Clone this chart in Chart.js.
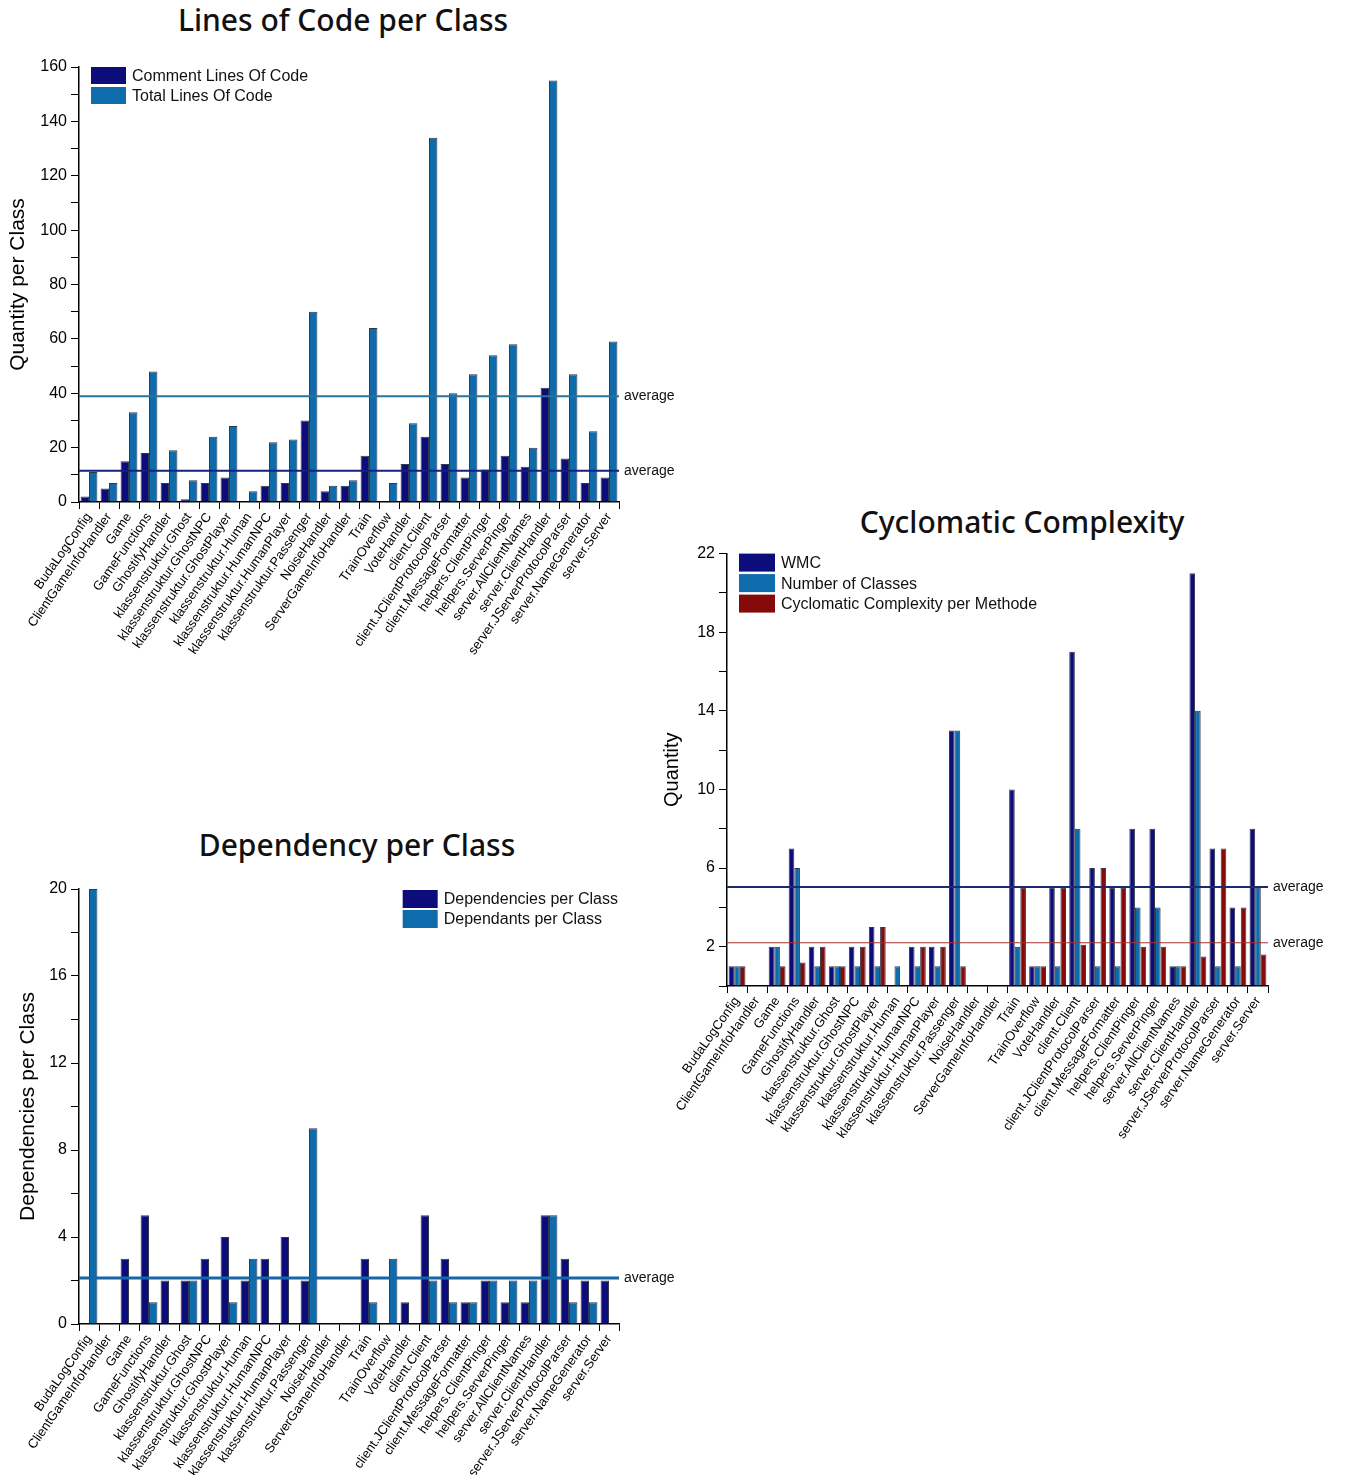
<!DOCTYPE html>
<html>
<head>
<meta charset="utf-8">
<script src="https://cdn.jsdelivr.net/npm/chart.js@4.4.0/dist/chart.umd.min.js"></script>
<style>
  body { margin: 0; background: #fff; width: 1345px; height: 1475px; position: relative; overflow: hidden; }
  canvas { position: absolute; }
  .title { position: absolute; width: 500px; text-align: center; line-height: 36px;
           font-family: 'Noto Sans', sans-serif; font-weight: 500; font-size: 30px; color: #111; }
</style>
</head>
<body>
<div class="title" style="left:93px; top:2px;">Lines of Code per Class</div>
<div class="title" style="left:772px; top:504px;">Cyclomatic Complexity</div>
<div class="title" style="left:107px; top:827px;">Dependency per Class</div>
<canvas id="loc" width="690" height="660" style="left:0; top:0;"></canvas>
<canvas id="cyclo" width="705" height="610" style="left:640px; top:540px;"></canvas>
<canvas id="dep" width="690" height="615" style="left:0; top:860px;"></canvas>
<script>
const classNames = ['BudaLogConfig', 'ClientGameInfoHandler', 'Game', 'GameFunctions', 'GhostifyHandler',
  'klassenstruktur.Ghost', 'klassenstruktur.GhostNPC', 'klassenstruktur.GhostPlayer', 'klassenstruktur.Human',
  'klassenstruktur.HumanNPC', 'klassenstruktur.HumanPlayer', 'klassenstruktur.Passenger', 'NoiseHandler',
  'ServerGameInfoHandler', 'Train', 'TrainOverflow', 'VoteHandler', 'client.Client', 'client.JClientProtocolParser',
  'client.MessageFormatter', 'helpers.ClientPinger', 'helpers.ServerPinger', 'server.AllClientNames',
  'server.ClientHandler', 'server.JServerProtocolParser', 'server.NameGenerator', 'server.Server'];

const commentLines = [2, 5, 15, 18, 7, 1, 7, 9, 0, 6, 7, 30, 4, 6, 17, 0, 14, 24, 14, 9, 12, 17, 13, 42, 16, 7, 9];
const totalLines = [11, 7, 33, 48, 19, 8, 24, 28, 4, 22, 23, 70, 6, 8, 64, 7, 29, 134, 40, 47, 54, 58, 20, 155, 47, 26, 59];

const wmc = [1, 0, 2, 7, 2, 1, 2, 3, 0, 2, 2, 13, 0, 0, 10, 1, 5, 17, 6, 5, 8, 8, 1, 21, 7, 4, 8];
const numClasses = [1, 0, 2, 6, 1, 1, 1, 1, 1, 1, 1, 13, 0, 0, 2, 1, 1, 8, 1, 1, 4, 4, 1, 14, 1, 1, 5];
const ccPerMethod = [1, 0, 1, 1.2, 2, 1, 2, 3, 0, 2, 2, 1, 0, 0, 5, 1, 5, 2.1, 6, 5, 2, 2, 1, 1.5, 7, 4, 1.6];

const dependencies = [0, 0, 3, 5, 2, 2, 3, 4, 2, 3, 4, 2, 0, 0, 3, 0, 1, 5, 3, 1, 2, 1, 1, 5, 3, 2, 2];
const dependants = [20, 0, 0, 1, 0, 2, 0, 1, 3, 0, 0, 9, 0, 0, 1, 3, 0, 2, 1, 1, 2, 2, 2, 5, 1, 1, 0];

const NAVY = '#0c0c7a';
const BLUE = '#0f6cac';
const RED = '#850a0a';
const FONT = '"Liberation Sans", Arial, sans-serif';

const mean = arr => arr.reduce((a, b) => a + b, 0) / arr.length;

Chart.defaults.font.family = FONT;
Chart.defaults.color = '#000';

// horizontal "average" lines with a label right of the plot
const averageLines = {
  id: 'averageLines',
  afterDatasetsDraw(chart, args, opts) {
    const { ctx, chartArea, scales } = chart;
    (opts.lines || []).forEach(l => {
      const y = scales.y.getPixelForValue(l.value);
      ctx.save();
      ctx.strokeStyle = l.color;
      ctx.lineWidth = l.width;
      ctx.beginPath();
      ctx.moveTo(chartArea.left, y);
      ctx.lineTo(chartArea.right, y);
      ctx.stroke();
      ctx.fillStyle = '#111';
      ctx.font = '14px ' + FONT;
      ctx.textAlign = 'left';
      ctx.textBaseline = 'middle';
      ctx.fillText('average', chartArea.right + 5, y);
      ctx.restore();
    });
  }
};

// legend drawn inside the plot area
const insideLegend = {
  id: 'insideLegend',
  afterDraw(chart, args, opts) {
    const { ctx, chartArea } = chart;
    const sets = chart.data.datasets;
    ctx.save();
    ctx.font = '16px ' + FONT;
    const textW = Math.max(...sets.map(d => ctx.measureText(d.label).width));
    const total = opts.boxWidth + opts.gap + textW;
    const x0 = opts.align === 'right'
      ? chartArea.right - opts.offsetX - total
      : chartArea.left + opts.offsetX;
    sets.forEach((d, i) => {
      const y = chartArea.top + opts.offsetY + i * opts.step;
      ctx.fillStyle = d.backgroundColor;
      ctx.fillRect(x0, y, opts.boxWidth, opts.boxHeight);
      ctx.fillStyle = '#111';
      ctx.textAlign = 'left';
      ctx.textBaseline = 'middle';
      ctx.fillText(d.label, x0 + opts.boxWidth + opts.gap, y + opts.boxHeight / 2 + 1);
    });
    ctx.restore();
  }
};

function xAxis(height) {
  return {
    type: 'category',
    offset: true,
    grid: { display: true, drawOnChartArea: false, drawTicks: true, tickLength: 7, color: '#000', offset: true },
    border: { display: true, color: '#000', width: 1.5 },
    ticks: { autoSkip: false, minRotation: 55, maxRotation: 55, font: { size: 13 }, padding: 1 },
    afterFit(s) { s.height = height; }
  };
}

function yAxis(title, titleSize, max, step, firstLabel, labelEvery, width) {
  return {
    min: 0,
    max: max,
    grid: { display: true, drawOnChartArea: false, drawTicks: true, tickLength: 8, color: '#000' },
    border: { display: true, color: '#000', width: 1.5 },
    ticks: {
      stepSize: step,
      font: { size: 16 },
      padding: 4,
      callback: v => ((v - firstLabel) % labelEvery === 0 && v >= firstLabel ? v : '')
    },
    title: { display: true, text: title, font: { size: titleSize }, padding: { top: 6, bottom: 2 } },
    afterFit(s) { s.width = width; }
  };
}

function bars(label, data, color) {
  return {
    label: label,
    data: data,
    backgroundColor: color,
    borderColor: 'rgba(15,20,45,0.85)',
    borderWidth: 1,
    categoryPercentage: 0.84,
    barPercentage: 1.0
  };
}

const common = { responsive: false, animation: false };

new Chart(document.getElementById('loc').getContext('2d'), {
  type: 'bar',
  data: {
    labels: classNames,
    datasets: [
      bars('Comment Lines Of Code', commentLines, NAVY),
      bars('Total Lines Of Code', totalLines, BLUE)
    ]
  },
  options: {
    ...common,
    layout: { padding: { left: 0, right: 71, top: 67, bottom: 0 } },
    scales: {
      x: xAxis(158),
      y: yAxis('Quantity per Class', 21, 160, 10, 0, 20, 79)
    },
    plugins: {
      legend: { display: false },
      tooltip: { enabled: false },
      insideLegend: { align: 'left', offsetX: 12, offsetY: 0, step: 20, boxWidth: 35, boxHeight: 17, gap: 6 },
      averageLines: {
        lines: [
          { value: mean(totalLines), color: '#2a72a0', width: 2 },
          { value: mean(commentLines), color: '#14207e', width: 2 }
        ]
      }
    }
  },
  plugins: [averageLines, insideLegend]
});

new Chart(document.getElementById('cyclo').getContext('2d'), {
  type: 'bar',
  data: {
    labels: classNames,
    datasets: [
      bars('WMC', wmc, NAVY),
      bars('Number of Classes', numClasses, BLUE),
      bars('Cyclomatic Complexity per Methode', ccPerMethod, RED)
    ]
  },
  options: {
    ...common,
    layout: { padding: { left: 14, right: 77, top: 10, bottom: 0 } },
    scales: {
      x: xAxis(164),
      y: yAxis('Quantity', 20, 22, 2, 2, 4, 73)
    },
    plugins: {
      legend: { display: false },
      tooltip: { enabled: false },
      insideLegend: { align: 'left', offsetX: 12, offsetY: 0, step: 20.5, boxWidth: 36, boxHeight: 18, gap: 6 },
      averageLines: {
        lines: [
          { value: mean(wmc), color: '#1c2a6e', width: 2 },
          { value: mean(ccPerMethod), color: '#a83232', width: 1 }
        ]
      }
    }
  },
  plugins: [averageLines, insideLegend]
});

new Chart(document.getElementById('dep').getContext('2d'), {
  type: 'bar',
  data: {
    labels: classNames,
    datasets: [
      bars('Dependencies per Class', dependencies, NAVY),
      bars('Dependants per Class', dependants, BLUE)
    ]
  },
  options: {
    ...common,
    layout: { padding: { left: 10, right: 71, top: 29, bottom: 0 } },
    scales: {
      x: xAxis(151),
      y: yAxis('Dependencies per Class', 21, 20, 2, 0, 4, 69)
    },
    plugins: {
      legend: { display: false },
      tooltip: { enabled: false },
      insideLegend: { align: 'right', offsetX: 1, offsetY: 1, step: 20, boxWidth: 35, boxHeight: 18, gap: 6 },
      averageLines: {
        lines: [
          { value: mean(dependants), color: '#1666a8', width: 3 }
        ]
      }
    }
  },
  plugins: [averageLines, insideLegend]
});
</script>
</body>
</html>
